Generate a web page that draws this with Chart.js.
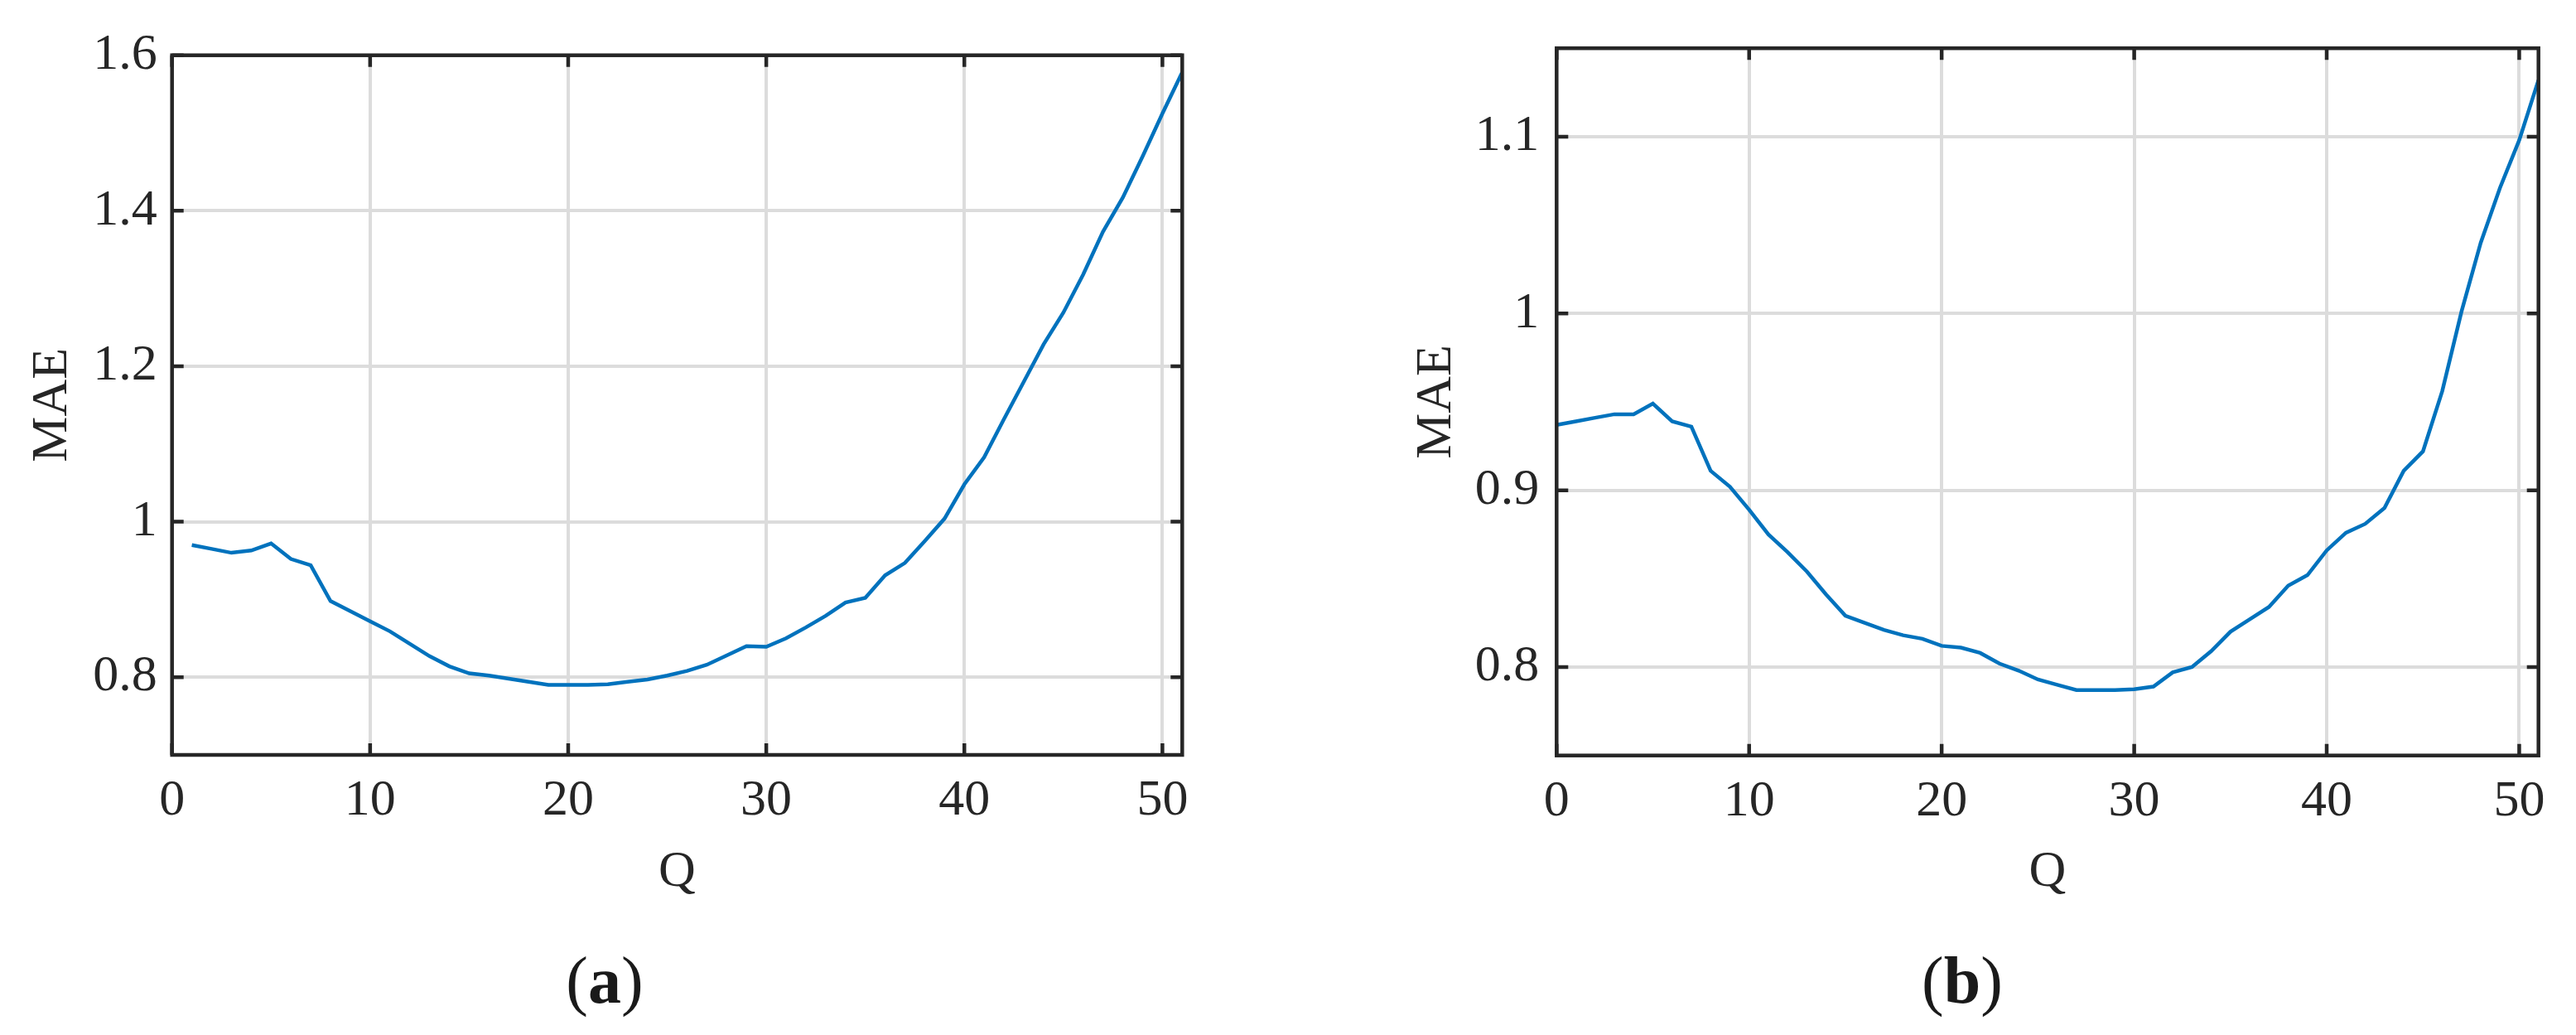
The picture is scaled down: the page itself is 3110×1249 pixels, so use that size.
<!DOCTYPE html>
<html>
<head>
<meta charset="utf-8">
<script src="https://cdn.jsdelivr.net/npm/chart.js@4.4.0/dist/chart.umd.min.js"></script>
<style>
  body { margin: 0; width: 3110px; height: 1249px; background: #fff; position: relative; overflow: hidden; }
  canvas { position: absolute; top: 0; }
  #chartA { left: 0; }
  #chartB { left: 1600px; }
  .cap { position: absolute; top: 1183px; transform: translate(-50%, -50%); font-family: 'Liberation Serif', 'Times New Roman', serif; font-size: 80px; line-height: 1; color: #1a1a1a; white-space: nowrap; }
</style>
</head>
<body>
<canvas id="chartA" width="1500" height="1249"></canvas>
<canvas id="chartB" width="1510" height="1249"></canvas>
<div class="cap" style="left:730px">(<b>a</b>)</div>
<div class="cap" style="left:2369px">(<b>b</b>)</div>
<script>
// (a) MAE against Q
var qA = [1, 2, 3, 4, 5, 6, 7, 8, 9, 10, 11, 12, 13, 14, 15, 16, 17, 18, 19, 20, 21, 22, 23, 24, 25, 26,
          27, 28, 29, 30, 31, 32, 33, 34, 35, 36, 37, 38, 39, 40, 41, 42, 43, 44, 45, 46, 47, 48, 49, 50, 51];
var maeA = [0.970, 0.965, 0.960, 0.963, 0.972, 0.952, 0.944, 0.898, 0.885, 0.872, 0.859, 0.843, 0.827,
            0.814, 0.805, 0.802, 0.798, 0.794, 0.790, 0.790, 0.790, 0.791, 0.794, 0.797, 0.802, 0.808,
            0.816, 0.828, 0.840, 0.839, 0.850, 0.864, 0.879, 0.896, 0.902, 0.931, 0.947, 0.975, 1.004,
            1.048, 1.083, 1.132, 1.180, 1.228, 1.269, 1.318, 1.373, 1.417, 1.470, 1.525, 1.578];

// (b) MAE against Q
var qB = [0, 1, 2, 3, 4, 5, 6, 7, 8, 9, 10, 11, 12, 13, 14, 15, 16, 17, 18, 19, 20, 21, 22, 23, 24, 25, 26,
          27, 28, 29, 30, 31, 32, 33, 34, 35, 36, 37, 38, 39, 40, 41, 42, 43, 44, 45, 46, 47, 48, 49, 50, 51];
var maeB = [0.937, 0.939, 0.941, 0.943, 0.943, 0.949, 0.939, 0.936, 0.911, 0.902, 0.889, 0.875, 0.865,
            0.854, 0.841, 0.829, 0.825, 0.821, 0.818, 0.816, 0.812, 0.811, 0.808, 0.802, 0.798, 0.793,
            0.790, 0.787, 0.787, 0.787, 0.7875, 0.789, 0.797, 0.800, 0.809, 0.820, 0.827, 0.834, 0.846,
            0.852, 0.866, 0.876, 0.881, 0.890, 0.911, 0.922, 0.956, 1.001, 1.040, 1.071, 1.098, 1.132];

var xTicks = [0, 10, 20, 30, 40, 50];
var yTicksA = [0.8, 1, 1.2, 1.4, 1.6];
var yTicksB = [0.8, 0.9, 1, 1.1];

var fontFamily = "'Liberation Serif', 'Times New Roman', serif";
var axisColor = '#262626';
var gridColor = '#dcdcdc';
var lineColor = '#0072BD';

// box round the plot, with ticks pointing inward on all four sides
var boxTicks = {
    id: 'boxTicks',
    afterDraw: function(chart) {
        var ctx = chart.ctx;
        var a = chart.chartArea;
        var xs = chart.scales.x;
        var ys = chart.scales.y;
        var len = 14;
        ctx.save();
        ctx.strokeStyle = axisColor;
        ctx.lineWidth = 4.5;
        ctx.beginPath();
        xs.ticks.forEach(function(t) {
            var px = xs.getPixelForValue(t.value);
            ctx.moveTo(px, a.bottom);
            ctx.lineTo(px, a.bottom - len);
            ctx.moveTo(px, a.top);
            ctx.lineTo(px, a.top + len);
        });
        ys.ticks.forEach(function(t) {
            var py = ys.getPixelForValue(t.value);
            ctx.moveTo(a.left, py);
            ctx.lineTo(a.left + len, py);
            ctx.moveTo(a.right, py);
            ctx.lineTo(a.right - len, py);
        });
        ctx.stroke();
        ctx.strokeRect(a.left, a.top, a.right - a.left, a.bottom - a.top);
        ctx.restore();
    }
};

function makeChart(id, q, mae, yMin, yMax, yTicks, box) {
    var pts = q.map(function(v, i) { return {x: v, y: mae[i]}; });
    return new Chart(document.getElementById(id), {
        type: 'line',
        data: {
            datasets: [{
                data: pts,
                borderColor: lineColor,
                borderWidth: 4.5,
                pointRadius: 0,
                tension: 0,
                fill: false
            }]
        },
        options: {
            responsive: false,
            animation: false,
            layout: { padding: { left: 0, top: box.top, right: box.right, bottom: box.bottom } },
            plugins: { legend: { display: false }, tooltip: { enabled: false } },
            scales: {
                x: {
                    type: 'linear',
                    min: 0,
                    max: 51,
                    afterBuildTicks: function(s) { s.ticks = xTicks.map(function(v) { return {value: v}; }); },
                    afterFit: function(s) { s.height = box.xHeight; },
                    grid: { color: gridColor, lineWidth: 4, drawTicks: false },
                    border: { display: false },
                    ticks: {
                        padding: 19,
                        autoSkip: false,
                        maxRotation: 0,
                        color: axisColor,
                        font: { family: fontFamily, size: 62 },
                        callback: function(v) { return String(v); }
                    },
                    title: {
                        display: true,
                        text: 'Q',
                        color: axisColor,
                        padding: 0,
                        font: { family: fontFamily, size: 62 }
                    }
                },
                y: {
                    type: 'linear',
                    min: yMin,
                    max: yMax,
                    afterBuildTicks: function(s) { s.ticks = yTicks.map(function(v) { return {value: v}; }); },
                    afterFit: function(s) { s.width = box.yWidth; },
                    grid: { color: gridColor, lineWidth: 4, drawTicks: false },
                    border: { display: false },
                    ticks: {
                        padding: box.yTickPad,
                        color: axisColor,
                        font: { family: fontFamily, size: 62 },
                        callback: function(v) { return String(v); }
                    },
                    title: {
                        display: true,
                        text: 'MAE',
                        color: axisColor,
                        padding: { top: box.yTitlePad, bottom: 0 },
                        font: { family: fontFamily, size: 62 }
                    }
                }
            }
        },
        plugins: [boxTicks]
    });
}

makeChart('chartA', qA, maeA, 0.7, 1.6, yTicksA,
    { top: 66.7, right: 72.7, bottom: 158.8, xHeight: 179.2, yWidth: 207.7, yTickPad: 18, yTitlePad: 27 });
makeChart('chartB', qB, maeB, 0.75, 1.15, yTicksB,
    { top: 41.3, right: 45.3, bottom: 158.8, xHeight: 178.5, yWidth: 279.3, yTickPad: 21, yTitlePad: 98 });
</script>
</body>
</html>
